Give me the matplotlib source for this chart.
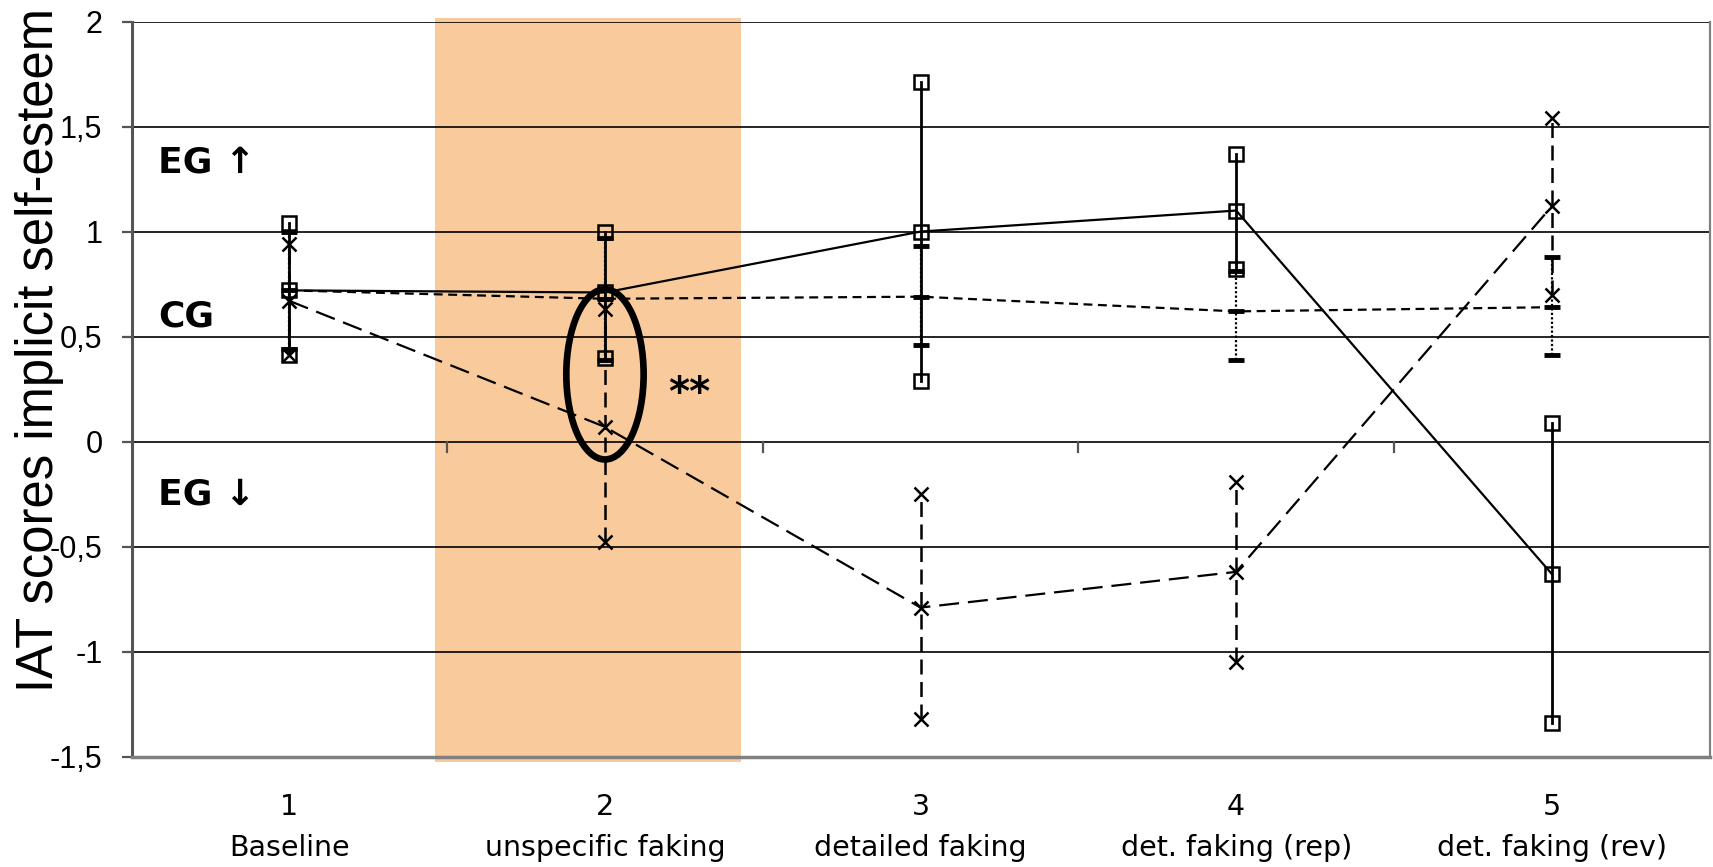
import matplotlib
matplotlib.use("Agg")
import matplotlib.pyplot as plt
from matplotlib.patches import Ellipse
from matplotlib.ticker import FuncFormatter

# conditions along the x axis
categories = ["Baseline", "unspecific faking", "detailed faking",
              "det. faking (rep)", "det. faking (rev)"]
x = [1, 2, 3, 4, 5]

# experimental group, faking high (squares, solid)
eg_up_mean = [0.72, 0.71, 1.00, 1.10, -0.63]
eg_up_hi = [1.04, 1.00, 1.71, 1.37, 0.09]
eg_up_lo = [0.41, 0.40, 0.29, 0.82, -1.34]

# experimental group, faking low (crosses, dashed)
eg_down_mean = [0.67, 0.07, -0.79, -0.62, 1.12]
eg_down_hi = [0.94, 0.63, -0.25, -0.19, 1.54]
eg_down_lo = [0.41, -0.48, -1.32, -1.05, 0.70]

# control group (bars, short dashes)
cg_mean = [0.72, 0.68, 0.69, 0.62, 0.64]
cg_hi = [1.00, 0.97, 0.93, 0.81, 0.88]
cg_lo = [0.44, 0.39, 0.46, 0.39, 0.41]

y_ticks = [-1.5, -1.0, -0.5, 0.0, 0.5, 1.0, 1.5, 2.0]

# shaded condition and the highlighted value
shade_from, shade_to = 1.46, 2.43
ring_x, ring_y = 2.0, 0.32

arial = ["Liberation Sans", "DejaVu Sans"]
verdana = ["DejaVu Sans"]

fig = plt.figure(figsize=(17.13, 8.67), dpi=100)
ax = fig.add_axes([0.0768, 0.1272, 0.9212, 0.848])
ax.set_xlim(0.5, 5.5)
ax.set_ylim(-1.5, 2.0)

ax.axvspan(shade_from, shade_to, ymin=-0.007, ymax=1.005, color="#F9CB9C",
           lw=0, zorder=0, clip_on=False)

ax.set_yticks(y_ticks)
ax.yaxis.set_major_formatter(FuncFormatter(lambda v, p: f"{v:g}".replace(".", ",")))
ax.grid(axis="y", color="black", lw=1.2, zorder=1)
ax.set_axisbelow(True)

# category separators hanging below the zero line
for b in [i + 0.5 for i in x[:-1]]:
    ax.plot([b, b], [0, -0.05], color="#555555", lw=1.6, zorder=2)

for side in ["left", "right", "bottom"]:
    ax.spines[side].set_color("#808080")
    ax.spines[side].set_linewidth(1.6)
ax.spines["left"].set_color("#555555")
ax.spines["left"].set_linewidth(2.2)
ax.spines["bottom"].set_linewidth(2.5)
ax.spines["top"].set_visible(False)

ax.set_xticks(x)
ax.set_xticklabels([f"{i}\n{c}" for i, c in zip(x, categories)],
                   family=verdana, fontsize=20.5, linespacing=1.6)
ax.tick_params(axis="x", length=0, pad=26)
ax.tick_params(axis="y", length=7, color="#555555", width=1.6, pad=14)
for t in ax.get_yticklabels():
    t.set_family(arial)
    t.set_fontsize(22)

fig.text(0.023, 0.596, "IAT scores implicit self-esteem", rotation=90,
         ha="center", va="center", family=arial, fontsize=36.5)

# error bars
for xi, lo, hi in zip(x, eg_up_lo, eg_up_hi):
    ax.plot([xi, xi], [lo, hi], color="black", lw=2.0, zorder=3)
for xi, lo, hi in zip(x, eg_down_lo, eg_down_hi):
    ax.plot([xi, xi], [lo, hi], color="black", lw=1.8, ls=(0, (6, 3)), zorder=3)
for xi, lo, hi in zip(x, cg_lo, cg_hi):
    ax.plot([xi, xi], [lo, hi], color="black", lw=1.6, ls=(0, (1, 1)), zorder=3)

# group means
ax.plot(x, eg_up_mean, color="black", lw=1.6, zorder=4)
ax.plot(x, eg_down_mean, color="black", lw=1.6, ls=(0, (9, 4)), zorder=4)
ax.plot(x, cg_mean, color="black", lw=1.6, ls=(0, (4, 2.5)), zorder=4)

# markers at means and at error bar ends
sq = dict(marker="s", ms=10, mfc="none", mec="black", mew=1.8, ls="none", zorder=5)
cr = dict(marker="x", ms=10, mec="black", mew=1.8, ls="none", zorder=5)
bar = dict(marker="_", ms=12, mec="black", mew=3.5, ls="none", zorder=5)
for ys in (eg_up_mean, eg_up_hi, eg_up_lo):
    ax.plot(x, ys, **sq)
for ys in (eg_down_mean, eg_down_hi, eg_down_lo):
    ax.plot(x, ys, **cr)
for ys in (cg_mean, cg_hi, cg_lo):
    ax.plot(x, ys, **bar)

# highlighted value in the unspecific faking condition
ax.add_patch(Ellipse((ring_x, ring_y), 0.245, 0.81, fill=False, ec="black",
                     lw=4.8, zorder=6))
ax.text(2.20, 0.175, "**", fontsize=29, fontweight="bold", family=verdana,
        ha="left", va="baseline", zorder=6)

# group labels
ax.text(0.584, 1.28, "EG \u2191", fontsize=26, fontweight="bold",
        family=verdana, ha="left", va="baseline")
ax.text(0.584, 0.546, "CG", fontsize=26, fontweight="bold",
        family=verdana, ha="left", va="baseline")
ax.text(0.584, -0.30, "EG \u2193", fontsize=26, fontweight="bold",
        family=verdana, ha="left", va="baseline")

fig.savefig("out.png", dpi=100)
